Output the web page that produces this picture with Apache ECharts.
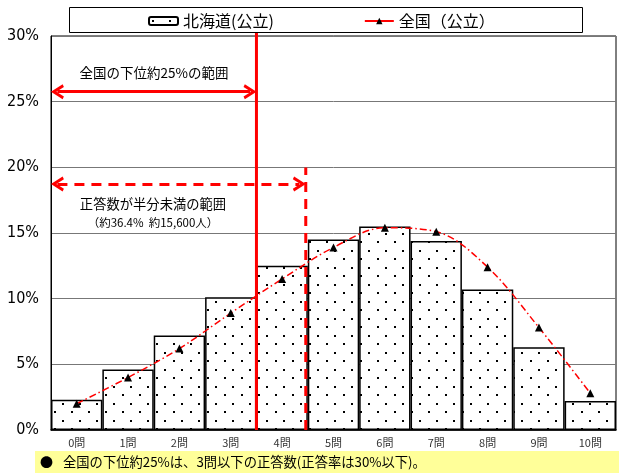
<!DOCTYPE html>
<html><head><meta charset="utf-8">
<script src="https://cdn.jsdelivr.net/npm/echarts@6/dist/echarts.min.js"></script>
<style>html,body{margin:0;padding:0;background:#fff}#c{width:619px;height:473px}</style>
</head><body><div id="c"></div>
<script>
// ---- data ----
const categories = ['0問','1問','2問','3問','4問','5問','6問','7問','8問','9問','10問'];
const hokkaidoValues = [2.3, 4.6, 7.2, 10.1, 12.5, 14.5, 15.5, 14.4, 10.7, 6.3, 2.2];
const nationalValues = [2.0, 4.0, 6.2, 8.9, 11.5, 13.9, 15.4, 15.1, 12.4, 7.8, 2.8];
const seriesNames = ['北海道(公立)', '全国（公立）'];
const yMin = 0, yMax = 30, yStep = 5;
// annotation positions in (category-boundary units, percent)
const lower25Boundary = 4;      // between 3問 and 4問
const halfBoundary = 4.96;      // just before 5問
const arrow25Y = 25.76;
const arrowHalfY = 18.73;
const lineTopY = 30.23;
const dashTopY = 19.99;
const headShift = 0.125;        // half arrow-head length, in category units

// dot pattern for bars
function dotPattern(){
  const c = document.createElement('canvas');
  c.width = 17; c.height = 17;
  const g = c.getContext('2d');
  g.fillStyle = '#fff'; g.fillRect(0,0,17,17);
  g.fillStyle = '#000';
  g.fillRect(3,3,2,2);
  g.fillRect(11,12,2,2);
  return c;
}
const pat = {image: dotPattern(), repeat: 'repeat'};
const chev = 'path://M0,9 L5,0 L10,9 L8.2,10 L5,4.2 L1.8,10 Z';
const JP = '"Noto Sans CJK JP", sans-serif';

const chart = echarts.init(document.getElementById('c'), null, {renderer:'canvas'});
chart.setOption({
  animation: false,
  backgroundColor: '#fff',
  textStyle: {fontFamily: JP},
  grid: {left: 51, right: 3, top: 36, bottom: 43, show: true, borderColor: '#000', borderWidth: 1, backgroundColor: 'transparent'},
  legend: {
    left: 143, top: 8, itemWidth: 29, itemHeight: 8, itemGap: 90,
    textStyle: {fontSize: 16, color: '#000', fontFamily: JP},
    data: [{name: seriesNames[0]}, {name: seriesNames[1], lineStyle: {type: 'solid'}}]
  },
  xAxis: [{
    type: 'category', data: categories,
    axisLine: {show: true, lineStyle: {color: '#000', width: 1.5}},
    axisTick: {show: false},
    axisLabel: {fontSize: 11, color: '#333', margin: 7, fontFamily: JP}
  },{
    type: 'value', min: 0, max: 11, show: false
  }],
  yAxis: {
    type: 'value', min: yMin, max: yMax, interval: yStep,
    axisLine: {show: true, lineStyle: {color: '#000', width: 1}},
    axisTick: {show: false},
    axisLabel: {formatter: '{value}%', fontSize: 16, color: '#000', margin: 12,
      fontFamily: '"Liberation Sans Narrow", "DejaVu Sans Condensed", sans-serif'},
    splitLine: {show: true, lineStyle: {color: '#777', width: 1}}
  },
  series: [{
    name: seriesNames[0], type: 'bar', data: hokkaidoValues,
    barCategoryGap: '0%', barGap: '0%',
    itemStyle: {color: pat, borderColor: '#000', borderWidth: 1.5},
    z: 2
  },{
    name: seriesNames[1], type: 'line', data: nationalValues,
    smooth: 0.35,
    symbol: 'triangle', symbolSize: 8,
    itemStyle: {color: '#000'},
    lineStyle: {color: '#f00', width: 1.5, type: [7,3,1.5,3]},
    z: 5
  },{
    name: 'lower25', type: 'line', xAxisIndex: 1,
    data: [[lower25Boundary, 0], [lower25Boundary, lineTopY]],
    showSymbol: false, symbol: 'none', clip: false, silent: true, z: 6,
    lineStyle: {color: '#f00', width: 3, type: 'solid'}
  },{
    name: 'half', type: 'line', xAxisIndex: 1,
    data: [[halfBoundary, 0], [halfBoundary, dashTopY]],
    showSymbol: false, symbol: 'none', clip: false, silent: true, z: 6,
    lineStyle: {color: '#f00', width: 3, type: [10,7]},
    markLine: {
      silent: true, animation: false,
      label: {show: false},
      symbol: [chev, chev], symbolSize: [15,13],
      data: [
        [{coord: [headShift, arrow25Y], lineStyle: {color: '#f00', width: 3, type: 'solid'}}, {coord: [lower25Boundary - headShift, arrow25Y]}],
        [{coord: [headShift, arrowHalfY], lineStyle: {color: '#f00', width: 3, type: [10,7]}}, {coord: [halfBoundary - headShift, arrowHalfY]}]
      ],
      lineStyle: {color: '#f00', width: 3},
      itemStyle: {color: '#f00'}
    }
  }],
  graphic: [
    {type: 'rect', left: 67, top: 5, shape: {width: 513, height: 25}, style: {fill: 'none', stroke: '#000', lineWidth: 1}, z: -1, silent: true},
    {type: 'text', x: 154, y: 73, style: {text: '全国の下位約25%の範囲', font: '13.5px ' + JP, fill: '#000', textAlign: 'center', textVerticalAlign: 'middle'}},
    {type: 'text', x: 153, y: 204, style: {text: '正答数が半分未満の範囲', font: '13.3px ' + JP, fill: '#000', textAlign: 'center', textVerticalAlign: 'middle'}},
    {type: 'text', x: 153, y: 223, style: {text: '（約36.4%  約15,600人）', font: '11.5px ' + JP, fill: '#000', textAlign: 'center', textVerticalAlign: 'middle'}},
    {type: 'rect', left: 35, top: 451, shape: {width: 584, height: 22}, style: {fill: '#ffff99'}, silent: true},
    {type: 'text', x: 40, y: 462, style: {text: '●', font: '13px ' + JP, fill: '#000', textVerticalAlign: 'middle'}},
    {type: 'text', x: 63, y: 462, style: {text: '全国の下位約25%は、3問以下の正答数(正答率は30%以下)。', font: '13.3px ' + JP, fill: '#000', textVerticalAlign: 'middle'}}
  ]
});
</script></body></html>
